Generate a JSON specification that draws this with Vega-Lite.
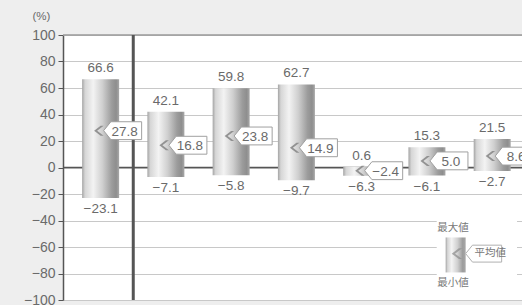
{
  "$schema": "https://vega.github.io/schema/vega-lite/v6.json",
  "width": 459,
  "height": 265,
  "autosize": {"type": "none"},
  "padding": {"left": 63, "top": 35, "right": 0, "bottom": 5},
  "background": "#eeeeee",
  "config": {
    "view": {"fill": "white", "stroke": null},
    "font": "Liberation Sans",
    "text": {"font": "Liberation Sans", "fontSize": 13.5, "color": "#6a6a6a"}
  },
  "datasets": {
    "bars": [
      {"pos": 0.5, "max": 66.6, "avg": 27.8, "min": -23.1, "maxL": "66.6", "avgL": "27.8", "minL": "−23.1"},
      {"pos": 1.5, "max": 42.1, "avg": 16.8, "min": -7.1, "maxL": "42.1", "avgL": "16.8", "minL": "−7.1"},
      {"pos": 2.5, "max": 59.8, "avg": 23.8, "min": -5.8, "maxL": "59.8", "avgL": "23.8", "minL": "−5.8"},
      {"pos": 3.5, "max": 62.7, "avg": 14.9, "min": -9.7, "maxL": "62.7", "avgL": "14.9", "minL": "−9.7"},
      {"pos": 4.5, "max": 0.6, "avg": -2.4, "min": -6.3, "maxL": "0.6", "avgL": "−2.4", "minL": "−6.3"},
      {"pos": 5.5, "max": 15.3, "avg": 5.0, "min": -6.1, "maxL": "15.3", "avgL": "5.0", "minL": "−6.1"},
      {"pos": 6.5, "max": 21.5, "avg": 8.6, "min": -2.7, "maxL": "21.5", "avgL": "8.6", "minL": "−2.7"}
    ],
    "legendbar": [
      {"pos": 5.94, "max": -52.8, "avg": -65, "min": -79.2}
    ],
    "legendtext": [
      {"pos": 5.9, "y": -45.3, "label": "最大値"},
      {"pos": 6.47, "y": -64.5, "label": "平均値"},
      {"pos": 5.9, "y": -86.8, "label": "最小値"}
    ],
    "legendbg": [
      {"x1": 5.65, "x2": 6.88, "y1": -31, "y2": -99.5}
    ],
    "lines": [
      {"y": 100, "c": "#9a9a9a"},
      {"y": 0, "c": "#555555"}
    ],
    "sep": [{"x": 1}]
  },
  "layer": [
    {
      "data": {"name": "legendbg"},
      "mark": {"type": "rect", "fill": "white"},
      "encoding": {
        "x": {"field": "x1", "type": "quantitative", "scale": {"domain": [0, 6.88], "nice": false, "zero": false}, "axis": null},
        "x2": {"field": "x2"},
        "y": {"field": "y1", "type": "quantitative", "scale": {"domain": [-100, 100], "nice": false},
          "axis": {
            "values": [-100, -80, -60, -40, -20, 0, 20, 40, 60, 80, 100],
            "tickCount": 11,
            "labelOverlap": false, "labelFlush": false, "labelBound": false,
            "grid": true, "gridColor": "#c8c8c8", "gridWidth": 1,
            "domainColor": "#555555", "domainWidth": 1.5,
            "tickColor": "#555555", "tickSize": 5,
            "labelColor": "#6a6a6a", "labelFontSize": 14, "labelPadding": 3, "labelFont": "Liberation Sans",
            "title": "(%)", "titleAngle": 0, "titleAlign": "left", "titleBaseline": "alphabetic",
            "titleX": -31, "titleY": -16, "titleFontSize": 11.5, "titleFontWeight": "normal", "titleColor": "#6a6a6a"
          }},
        "y2": {"field": "y2"}
      }
    },
    {
      "data": {"name": "lines"},
      "mark": {"type": "rule", "strokeWidth": 1.5},
      "encoding": {
        "y": {"field": "y", "type": "quantitative"},
        "color": {"field": "c", "type": "nominal", "scale": null}
      }
    },
    {
      "data": {"name": "sep"},
      "mark": {"type": "rule", "strokeWidth": 3, "color": "#555555"},
      "encoding": {"x": {"field": "x", "type": "quantitative"}}
    },
    {
      "data": {"name": "bars"},
      "mark": {"type": "bar", "width": 37,
        "color": {"gradient": "linear", "x1": 0, "x2": 1, "y1": 0, "y2": 0,
          "stops": [
            {"offset": 0, "color": "#a4a4a4"},
            {"offset": 0.08, "color": "#d6d6d6"},
            {"offset": 0.3, "color": "#f3f3f3"},
            {"offset": 0.55, "color": "#cfcfcf"},
            {"offset": 0.8, "color": "#9c9c9c"},
            {"offset": 0.92, "color": "#8e8e8e"},
            {"offset": 1, "color": "#a8a8a8"}
          ]}},
      "encoding": {
        "x": {"field": "pos", "type": "quantitative"},
        "y": {"field": "min", "type": "quantitative"},
        "y2": {"field": "max"}
      }
    },
    {
      "data": {"name": "bars"},
      "mark": {"type": "point", "shape": "M1,-1 L-0.3,0 L1,1 L0.4,1 L-0.9,0 L0.4,-1 Z", "size": 100, "filled": true, "color": "#8a8a8a", "opacity": 0.9, "xOffset": -2},
      "encoding": {
        "x": {"field": "pos", "type": "quantitative"},
        "y": {"field": "avg", "type": "quantitative"}
      }
    },
    {
      "data": {"name": "bars"},
      "mark": {"type": "point", "shape": "M-1,0 L-0.62,-0.47 L1,-0.47 L1,0.47 L-0.62,0.47 Z", "size": 1444, "filled": true, "fill": "white", "stroke": "#a0a0a0", "strokeWidth": 1, "opacity": 1, "xOffset": 22},
      "encoding": {
        "x": {"field": "pos", "type": "quantitative"},
        "y": {"field": "avg", "type": "quantitative"}
      }
    },
    {
      "data": {"name": "bars"},
      "mark": {"type": "text", "align": "center", "baseline": "middle", "xOffset": 24, "dy": 1},
      "encoding": {
        "x": {"field": "pos", "type": "quantitative"},
        "y": {"field": "avg", "type": "quantitative"},
        "text": {"field": "avgL"}
      }
    },
    {
      "data": {"name": "bars"},
      "mark": {"type": "text", "align": "center", "baseline": "alphabetic", "dy": -7},
      "encoding": {
        "x": {"field": "pos", "type": "quantitative"},
        "y": {"field": "max", "type": "quantitative"},
        "text": {"field": "maxL"}
      }
    },
    {
      "data": {"name": "bars"},
      "mark": {"type": "text", "align": "center", "baseline": "top", "dy": 4},
      "encoding": {
        "x": {"field": "pos", "type": "quantitative"},
        "y": {"field": "min", "type": "quantitative"},
        "text": {"field": "minL"}
      }
    },
    {
      "data": {"name": "legendbar"},
      "mark": {"type": "bar", "width": 20,
        "color": {"gradient": "linear", "x1": 0, "x2": 1, "y1": 0, "y2": 0,
          "stops": [
            {"offset": 0, "color": "#a4a4a4"},
            {"offset": 0.1, "color": "#d6d6d6"},
            {"offset": 0.3, "color": "#f3f3f3"},
            {"offset": 0.6, "color": "#cfcfcf"},
            {"offset": 0.85, "color": "#9c9c9c"},
            {"offset": 1, "color": "#a8a8a8"}
          ]}},
      "encoding": {
        "x": {"field": "pos", "type": "quantitative"},
        "y": {"field": "min", "type": "quantitative"},
        "y2": {"field": "max"}
      }
    },
    {
      "data": {"name": "legendbar"},
      "mark": {"type": "point", "shape": "M1,-1 L-0.3,0 L1,1 L0.4,1 L-0.9,0 L0.4,-1 Z", "size": 120, "filled": true, "color": "#8a8a8a", "xOffset": 1},
      "encoding": {
        "x": {"field": "pos", "type": "quantitative"},
        "y": {"field": "avg", "type": "quantitative"}
      }
    },
    {
      "data": {"name": "legendbar"},
      "mark": {"type": "point", "shape": "M-1,0 L-0.62,-0.47 L1,-0.47 L1,0.47 L-0.62,0.47 Z", "size": 1296, "filled": true, "fill": "white", "stroke": "#b0b0b0", "strokeWidth": 1, "opacity": 1, "xOffset": 28},
      "encoding": {
        "x": {"field": "pos", "type": "quantitative"},
        "y": {"field": "avg", "type": "quantitative"}
      }
    },
    {
      "data": {"name": "legendtext"},
      "mark": {"type": "text", "align": "center", "baseline": "middle", "font": "Noto Sans CJK JP", "fontSize": 10.5, "color": "#777777"},
      "encoding": {
        "x": {"field": "pos", "type": "quantitative"},
        "y": {"field": "y", "type": "quantitative"},
        "text": {"field": "label"}
      }
    }
  ]
}
